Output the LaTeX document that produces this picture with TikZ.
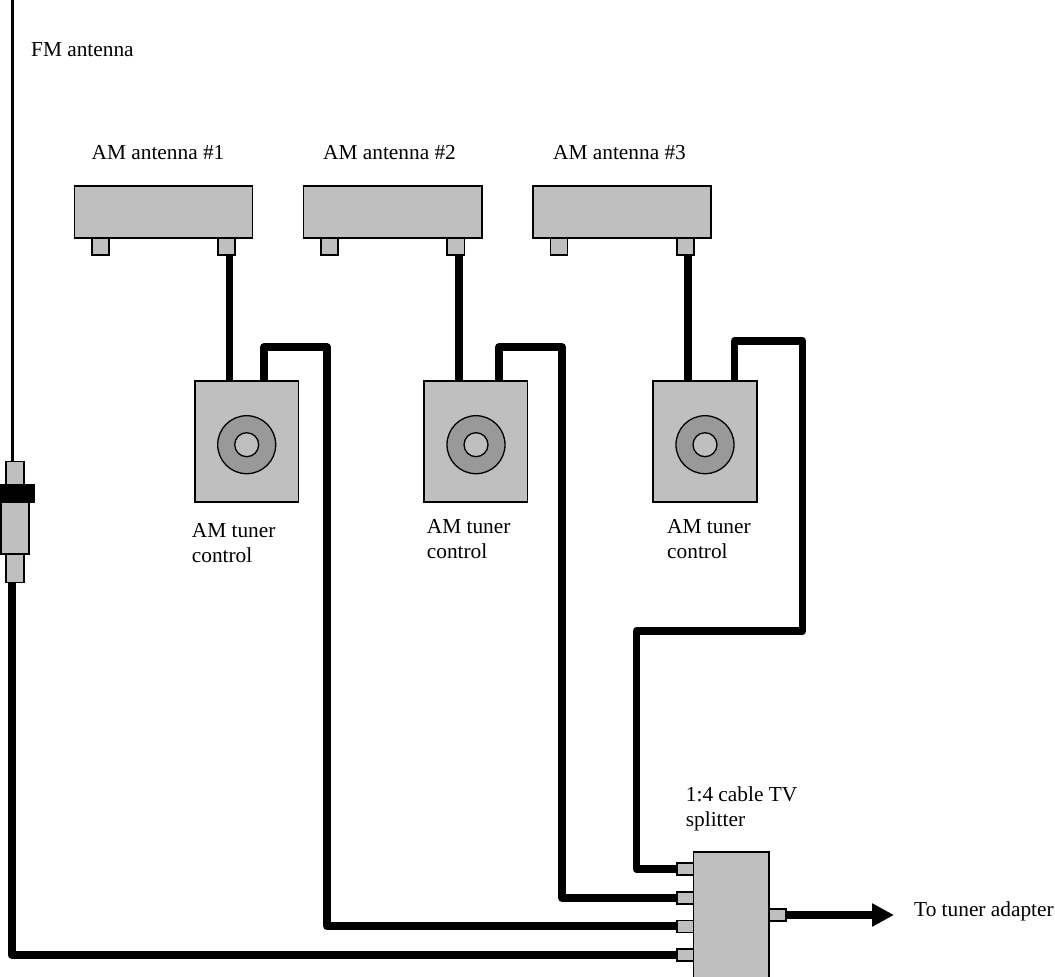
\documentclass[tikz,border=0pt]{standalone}
\usepackage{fontspec}
\setmainfont{Liberation Serif}
\usetikzlibrary{arrows.meta}
\tikzset{
  x=1pt,y=-1pt,
  box/.style={draw=black,fill=black!25,line width=1.6pt,inner sep=0pt,outer sep=0pt,anchor=north west},
  hub/.style={draw=black,line width=1.3pt,circle,inner sep=0pt,outer sep=0pt},
  cable/.style={draw=black,line width=7.7pt,line join=round},
  lbl/.style={font=\fontsize{21.33}{25}\selectfont,align=left,anchor=north west,inner sep=0pt},
  lbla/.style={font=\fontsize{21.33}{25}\selectfont,anchor=base west,inner sep=0pt}
}
\newcommand{\bx}[5]{\node[box,minimum width=#4pt,minimum height=#5pt] (#1) at (#2,#3) {};}
\begin{document}
\begin{tikzpicture}
\useasboundingbox (0,0) rectangle (1055,977);
\coordinate (fmtop) at (12,0);
\coordinate (c1a) at (264,347); \coordinate (c1b) at (327,347);
\coordinate (c2a) at (499,347); \coordinate (c2b) at (562,347);
\coordinate (c3a) at (734.5,341); \coordinate (c3b) at (802.5,341); \coordinate (c3c) at (802.5,631);
\coordinate (c3d) at (636.5,631);
\coordinate (c4a) at (11.7,955);
\coordinate (d1) at (229.5,255.7); \coordinate (d2) at (459,255.7); \coordinate (d3) at (688.3,255.7);
% antennas
\bx{a1}{74.5}{186}{178}{52} \bx{a1l}{92}{238}{17}{17} \bx{a1r}{218}{238}{17}{17}
\bx{a2}{303.5}{186}{178.5}{52} \bx{a2l}{321}{238}{17}{17} \bx{a2r}{447}{238}{17.5}{17}
\bx{a3}{533}{186}{178}{52} \bx{a3l}{550.5}{238}{17}{17} \bx{a3r}{677}{238}{17}{17}
% tuner controls
\bx{u1}{195}{381}{103.5}{121} \bx{u2}{424}{381}{103.5}{121} \bx{u3}{653}{381}{104}{121}
\foreach \n/\x in {k1/246.7,k2/476,k3/705}{
  \node[hub,fill=black!40,minimum size=58pt] (\n) at (\x,444.7) {};
  \node[hub,fill=black!25,minimum size=24pt] (\n i) at (\x,444.7) {};
}
% FM connector
\draw[black,line width=3pt] (fmtop) -- (12,462) coordinate (fmend);
\bx{f1}{5.7}{461.5}{18}{23} \bx{f3}{0.8}{502}{28}{52} \bx{f4}{5.7}{554}{18}{28.5}
\node[fill=black,inner sep=0pt,outer sep=0pt,anchor=north west,minimum width=35pt,minimum height=19pt] (f2) at (0,484) {};
% splitter
\bx{s}{693.5}{852}{75.5}{140}
\bx{p1}{677}{863}{16.5}{12} \bx{p2}{677}{892}{16.5}{12} \bx{p3}{677}{920.3}{16.5}{12} \bx{p4}{677}{949}{16.5}{12}
\bx{po}{769}{909}{17}{12}
% connectors
\draw[cable] (d1) -- (d1 |- u1.north);
\draw[cable] (d2) -- (d2 |- u2.north);
\draw[cable] (d3) -- (d3 |- u3.north);
\draw[cable] (c1a |- u1.north) -- (c1a) -- (c1b) |- (p3.west);
\draw[cable] (c2a |- u2.north) -- (c2a) -- (c2b) |- (p2.west);
\draw[cable] (c3a |- u3.north) -- (c3a) -- (c3b) -- (c3c) -- (c3d) |- (p1.west);
\draw[cable] (f4.south -| c4a) -- (c4a) -- (c4a -| p4.west);
\coordinate (tip) at (894,915);
\draw[cable,-{Triangle[length=22pt,width=22pt]}] (po.east) -- (tip);
% labels
\node[lbla] (lf) at (31,56) {FM antenna};
\node[lbla] (l1) at (91.5,159) {AM antenna \#1};
\node[lbla] (l2) at (323,159) {AM antenna \#2};
\node[lbla] (l3) at (553,159) {AM antenna \#3};
\node[lbl] (m1) at (191.7,522.8) {AM tuner\\control};
\node[lbl] (m2) at (426.7,518.8) {AM tuner\\control};
\node[lbl] (m3) at (667,518.8) {AM tuner\\control};
\node[lbl] (ms) at (685.7,786.6) {1:4 cable TV\\splitter};
\node[lbla] (mt) at (914,916) {To tuner adapter};
\end{tikzpicture}
\end{document}
